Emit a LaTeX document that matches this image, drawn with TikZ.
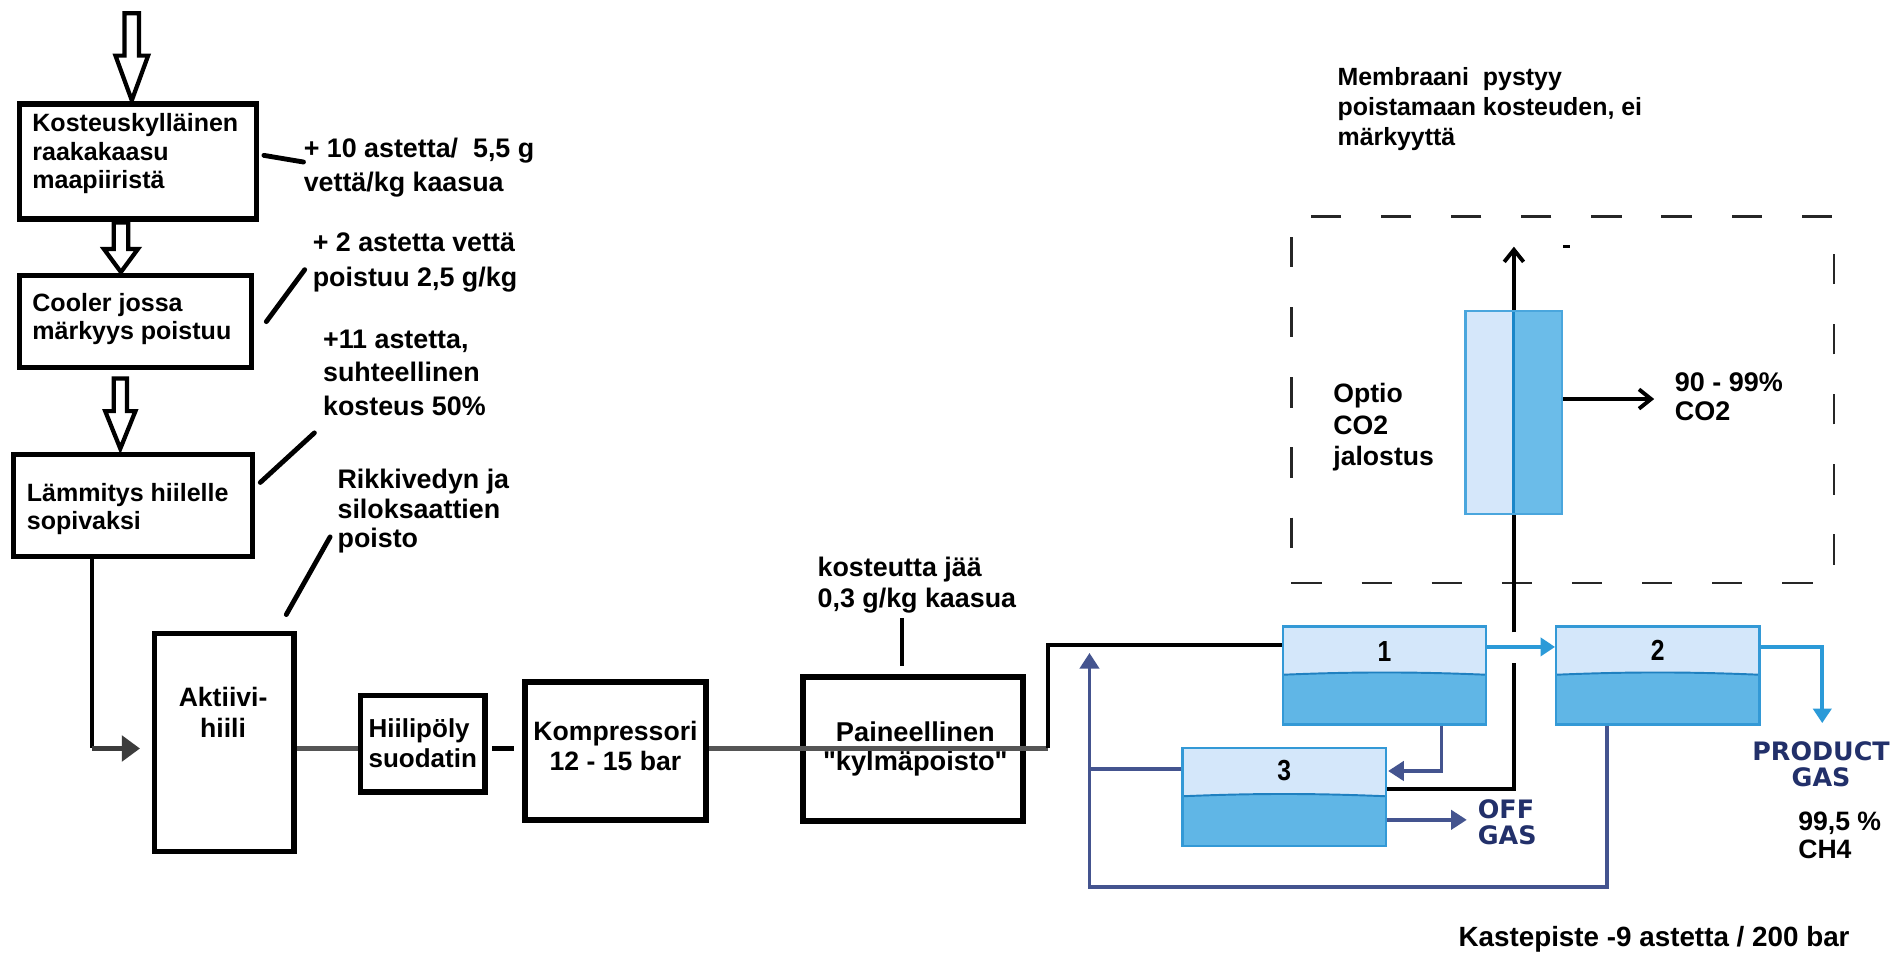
\documentclass[tikz,border=0pt]{standalone}
\usepackage{fontspec}
\setmainfont{Liberation Sans}
\newfontfamily\widefont{DejaVu Sans}
\newfontfamily\rawfont{Liberation Sans}
\newfontfamily\narrowfont{Liberation Sans}[FakeStretch=0.85]
\usetikzlibrary{arrows.meta,calc}
\newcommand{\tlines}[1]{\begin{tabular}[t]{@{}l@{}}#1\end{tabular}}
\newcommand{\tcent}[1]{\begin{tabular}[t]{@{}c@{}}#1\end{tabular}}
\newcommand{\harrow}[6]{\draw[hollow] ({#1-#5},#2) -- ({#1-#5},#3) -- ({#1-#6},#3) -- (#1,#4) -- ({#1+#6},#3) -- ({#1+#5},#3) -- ({#1+#5},#2) -- cycle;}
\definecolor{tanklight}{HTML}{D4E7FA}
\definecolor{tankdark}{HTML}{60B6E6}
\definecolor{tankborder}{HTML}{3399D6}
\definecolor{waterln}{HTML}{1F80C0}
\definecolor{navyln}{HTML}{44548F}
\definecolor{navytxt}{HTML}{22306A}
\definecolor{lbarrow}{HTML}{2B9AD8}
\definecolor{flowgray}{HTML}{555555}
\definecolor{memlight}{HTML}{D5E7FA}
\definecolor{memdark}{HTML}{6BBCE9}
\definecolor{memborder}{HTML}{4AA6DD}
\definecolor{memdiv}{HTML}{1A86C8}
\begin{document}
\begin{tikzpicture}[x=1pt,y=-1pt,
  box/.style={draw=black, line width=4.5pt, fill=white, inner sep=0pt},
  txt/.style={inner sep=0pt, anchor=base west, font=\bfseries\fontsize{20.7}{23.5}\selectfont},
  ann/.style={inner sep=0pt, anchor=base west, font=\bfseries\fontsize{22.2}{28}\selectfont},
  ctxt/.style={inner sep=0pt, anchor=base, font=\bfseries\fontsize{22}{25}\selectfont},
  lead/.style={draw=black, line width=4pt, line cap=round},
  flow/.style={draw=flowgray, line width=3.5pt},
  hollow/.style={draw=black, line width=3.5pt, fill=white, line join=miter},
  blk/.style={draw=black, line width=3.2pt},
  barb/.style={blk, -{Straight Barb[length=10pt,width=16pt]}},
  navy/.style={draw=navyln, line width=2.8pt},
  navyarr/.style={navy, -{Triangle[length=13pt,width=16pt]}},
  lbarr/.style={draw=lbarrow, line width=3pt, -{Triangle[length=12pt,width=15pt]}},
  num/.style={inner sep=0pt, font=\narrowfont\bfseries\fontsize{24}{24}\selectfont},
  gasname/.style={inner sep=0pt, anchor=base, text=navytxt, font=\widefont\bfseries\fontsize{21}{20.5}\selectfont},
  tank/.style={draw=tankborder, line width=2pt, fill=tanklight, minimum width=168pt, minimum height=81pt, inner sep=0pt,
    path picture={
      \fill[tankdark] ($(path picture bounding box.north west)+(0,40)$) .. controls ($(path picture bounding box.north west)+(60,37.5)$) and ($(path picture bounding box.north east)+(-60,37.5)$) .. ($(path picture bounding box.north east)+(0,40)$) -- (path picture bounding box.south east) -- (path picture bounding box.south west) -- cycle;
      \draw[waterln, line width=1.6pt] ($(path picture bounding box.north west)+(0,40)$) .. controls ($(path picture bounding box.north west)+(60,37.5)$) and ($(path picture bounding box.north east)+(-60,37.5)$) .. ($(path picture bounding box.north east)+(0,40)$);
    }},
  mem/.style={draw=memborder, line width=2pt, fill=memlight, minimum width=80pt, minimum height=168pt, inner sep=0pt,
    path picture={
      \fill[memdark] (path picture bounding box.north) rectangle (path picture bounding box.south east);
      \draw[memdiv, line width=2.5pt] (path picture bounding box.north) -- (path picture bounding box.south);
    }}
]
\fill[white] (0,0) rectangle (1568,790);
\useasboundingbox (0,0) rectangle (1568,790);

% ---------- left column boxes ----------
\node[box, minimum width=196pt, minimum height=95pt] (b1) at (114,133.5) {};
\node[box, minimum width=192pt, minimum height=76pt] (b2) at (112,266) {};
\node[box, minimum width=198pt, minimum height=84pt] (b3) at (110,418) {};
\node[txt] (b1t) at (26.6,109) {\tlines{Kosteuskylläinen\\raakakaasu\\maapiiristä}};
\node[txt] (b2t) at (26.6,258) {\fontsize{20.7}{23}\selectfont\tlines{Cooler jossa\\märkyys poistuu}};
\node[txt] (b3t) at (22,415) {\fontsize{20.7}{23}\selectfont\tlines{Lämmitys hiilelle\\sopivaksi}};

% hollow arrows
\harrow{109}{11}{46}{83}{6}{13.5}
\harrow{100}{184}{206}{225}{6}{14}
\harrow{99.5}{313}{340}{371}{5.5}{12.5}

% annotations
\node[ann] (a1) at (251,130) {\fontsize{22.2}{28.5}\selectfont\tlines{+ 10 astetta/\ \ 5,5 g\\vettä/kg kaasua}};
\node[ann] (a2) at (258.5,208) {\fontsize{22.2}{29}\selectfont\tlines{+ 2 astetta vettä\\poistuu 2,5 g/kg}};
\node[ann] (a3) at (267,288) {\fontsize{22.2}{27.7}\selectfont\tlines{+11 astetta,\\suhteellinen\\kosteus 50\%}};
\node[ann] (a4) at (279,404) {\fontsize{22.2}{24.5}\selectfont\tlines{Rikkivedyn ja\\siloksaattien\\poisto}};
\coordinate (l1) at (251,134);
\coordinate (l2) at (252,223);
\coordinate (l3) at (260,358);
\coordinate (l4) at (273,444);
\draw[lead] ([xshift=4pt,yshift=5pt]b1.east) -- (l1);
\draw[lead] ([xshift=10pt]b2.east) -- (l2);
\draw[lead] ([xshift=4pt,yshift=19pt]b3.east) -- (l3);

% ---------- main line ----------
\node[box, minimum width=115pt, minimum height=180pt] (ak) at (185.5,614) {};
\node[box, minimum width=103pt, minimum height=80pt] (hp) at (349.5,615) {};
\node[box, minimum width=150pt, minimum height=114pt] (ko) at (509,621) {};
\node[box, minimum width=182pt, minimum height=119pt] (pa) at (755,619.5) {};
\node[ctxt] (akt) at (184.5,584.5) {\tcent{Aktiivi-\\hiili}};
\node[txt, font=\bfseries\fontsize{21.5}{25.4}\selectfont] (hpt) at (304.6,609.6) {\tlines{Hiilipöly\\suodatin}};
\node[ctxt] (kot) at (509,612) {\tcent{Kompressori\\12 - 15 bar}};
\node[ctxt, font=\rawfont\bfseries\fontsize{22.5}{24.5}\selectfont] (pat) at (757,613) {\tcent{Paineellinen\\"kylmäpoisto"}};
\node[ann] (a5) at (676,477) {\fontsize{22.2}{25}\selectfont\tlines{kosteutta jää\\0,3 g/kg kaasua}};
\coordinate (l5) at (746,511);
\draw[lead] ([xshift=-8.5pt,yshift=13.5pt]ak.north east) -- (l4);
\draw[lead, line cap=butt] ([xshift=-9pt,yshift=7pt]pa.north) -- (l5);

\coordinate (m) at (0,619);
\coordinate (j1) at (76,619);
\coordinate (j2) at (867,619);
\draw[blk, line width=3.5pt] (b3.south -| j1) -- (j1);
\draw[draw=flowgray!70!black, line width=3.5pt, shorten >=10pt, -{Triangle[length=15pt,width=21pt]}] (j1) -- (ak.west |- m);
\draw[flow] (ak.east |- m) -- (hp.west |- m);
\draw[draw=black, line width=4.5pt, shorten <=4pt, shorten >=7pt] (hp.east |- m) -- (ko.west |- m);
\draw[flow] (ko.east |- m) -- (pa.east |- m);
\draw[flow] (pa.east |- m) -- (j2);

% ---------- tanks ----------
\node[tank] (t1) at (1145,558.5) {};
\node[tank] (t2) at (1371,558.5) {};
\node[tank] (t3) at (1062,659) {};
\node[num] at ([yshift=-22pt]t1.north) {1};
\node[num] at ([yshift=-21pt]t2.north) {2};
\node[num] at ([yshift=-20pt]t3.north) {3};

\draw[blk] (j2) |- ([yshift=25pt]t1.west);

\coordinate (r1) at (901,733.6);
\coordinate (r2) at (901,540);
\draw[navyarr] ([xshift=-42pt]t2.south) |- (r1) -- (r2);
\coordinate (t3w) at ([yshift=23pt]t3.west);
\draw[navy] (t3w) -- (t3w -| r1);
\draw[navyarr, shorten >=1pt] ([xshift=47pt]t1.south) |- ([yshift=21.4pt]t3.east);
\coordinate (offtip) at (1213,678);
\draw[navyarr] ([yshift=-19pt]t3.east) -- (offtip);
\node[gasname, anchor=base west] (off) at (1222,677) {\tlines{OFF\\GAS}};

\draw[lbarr] ([yshift=23.5pt]t1.east) -- ([yshift=23.5pt]t2.west);
\coordinate (ptip) at (1507,598);
\draw[lbarr] ([yshift=23.5pt]t2.east) -| (ptip);
\node[gasname] (prod) at (1506,628.6) {\tcent{PRODUCT\\GAS}};
\node[ann, font=\bfseries\fontsize{22}{23.5}\selectfont] (ch4) at (1487,686.5) {\tlines{99,5 \%\\CH4}};
\node[ann, font=\bfseries\fontsize{23}{23}\selectfont] (kaste) at (1206,783) {Kastepiste -9 astetta / 200 bar};

% ---------- CO2 option ----------
\node[draw=black!85, line width=1.8pt, dash pattern=on 25pt off 33pt, minimum width=449pt, minimum height=303pt, inner sep=0pt] (frame) at (1292.5,330.5) {};
\node[mem] (mb) at (1252,341) {};
\coordinate (g1) at (1252,548);
\coordinate (g2) at (1252,523);
\coordinate (uptip) at (1252,204);
\coordinate (co2tip) at (1368,330);
\draw[blk] ([yshift=6.4pt]t3.east) -| (g1);
\draw[blk] (g2) -- (mb.south);
\draw[barb] (mb.north) -- (uptip);
\draw[barb] ([yshift=11pt]mb.east) -- (co2tip);
\draw[draw=black, line width=3pt] (1293,204) -- (1298,204);
\node[ann, font=\bfseries\fontsize{22}{26}\selectfont] (opt) at (1102.5,333) {\tlines{Optio\\CO2\\jalostus}};
\node[ann, font=\bfseries\fontsize{22.3}{23.5}\selectfont] (co2t) at (1385,324) {\tlines{90 - 99\%\\CO2}};
\node[ann, font=\bfseries\fontsize{20.6}{24.5}\selectfont] (memt) at (1106,71) {\tlines{Membraani\ \ pystyy\\poistamaan kosteuden, ei\\märkyyttä}};
\end{tikzpicture}
\end{document}
